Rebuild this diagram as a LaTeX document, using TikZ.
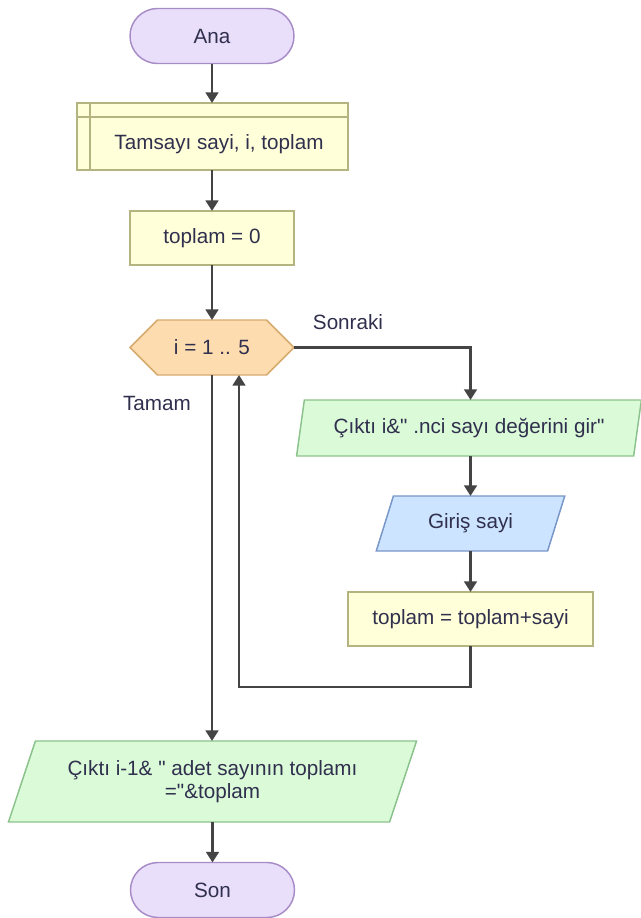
\documentclass[tikz,border=0pt]{standalone}
\usepackage{fontspec}
\setmainfont{Liberation Sans}[Ligatures=TeXOff]
\usetikzlibrary{shapes.misc,shapes.geometric,shapes.symbols,arrows.meta}

\definecolor{txt}{RGB}{48,48,78}
\definecolor{wire}{RGB}{68,68,68}
\definecolor{termfill}{RGB}{233,223,250}
\definecolor{termline}{RGB}{168,140,200}
\definecolor{procfill}{RGB}{255,255,217}
\definecolor{procline}{RGB}{180,180,128}
\definecolor{loopfill}{RGB}{253,220,176}
\definecolor{loopline}{RGB}{215,170,110}
\definecolor{outfill}{RGB}{218,250,216}
\definecolor{outline}{RGB}{140,195,140}
\definecolor{infill}{RGB}{204,228,255}
\definecolor{inline}{RGB}{120,150,200}

\tikzset{
  base/.style={inner sep=0pt, outer sep=0pt, line width=1.1pt, text=txt,
    font=\fontsize{15.5pt}{17.5pt}\selectfont, align=center},
  term/.style={base, shape=rounded rectangle, draw=termline, fill=termfill,
    minimum width=123pt, minimum height=41.25pt},
  proc/.style={base, shape=rectangle, draw=procline, fill=procfill},
  loopbox/.style={base, shape=signal, signal to=west and east,
    signal pointer angle=90, draw=loopline, fill=loopfill,
    minimum width=123pt, minimum height=41.25pt},
  para/.style={base, shape=trapezium, trapezium stretches=true},
  outbox/.style={para, draw=outline, fill=outfill},
  inbox/.style={para, draw=inline, fill=infill},
  flow/.style={draw=wire, line width=2.2pt,
    -{Triangle[length=8pt,width=9.5pt]}},
  lbl/.style={text=txt, font=\fontsize{15.5pt}{17.5pt}\selectfont}
}

\begin{document}
\begin{tikzpicture}[x=0.75pt, y=-0.75pt]
  \fill[white] (0,0) rectangle (641,918);
  \useasboundingbox (0,0) rectangle (641,918);

  % declarations and start
  \node[term] (ana) at (212,36) {Ana};
  \node[proc, minimum width=203.25pt, minimum height=50.25pt] (decl) at (212.5,136.5) {};
  \draw[procline, line width=1.1pt]
    (decl.north west) ++(0,-10.5pt) -- ([yshift=-10.5pt]decl.north east);
  \draw[procline, line width=1.1pt]
    ([xshift=9.75pt]decl.north west) -- ([xshift=9.75pt]decl.south west);
  \node[lbl] (decltext) at (219,144.5) {Tamsayı sayi, i, toplam};
  \node[proc, minimum width=123pt, minimum height=40.5pt] (init) at (212,238) {toplam = 0};

  % loop header
  \node[loopbox] (loop) at (212,347.5) {i = 1 .. 5};
  \node[lbl] (next) at (348,322) {Sonraki};
  \node[lbl] (done) at (157,403) {Tamam};

  % loop body
  \node[outbox, trapezium left angle=72, trapezium right angle=108,
    minimum width=258.75pt, minimum height=42pt] (ask) at (469,428)
    {Çıktı i\&" .nci sayı değerini gir"};
  \node[inbox, trapezium left angle=64, trapezium right angle=116,
    minimum width=141.75pt, minimum height=41.25pt] (read) at (470.5,523.5)
    {Giriş sayi};
  \node[proc, minimum width=183.75pt, minimum height=40.5pt] (add) at (470.5,619)
    {toplam = toplam+sayi};
  \coordinate (back) at (239,687);

  % result and end
  \node[outbox, trapezium left angle=62.6, trapezium right angle=117.4,
    minimum width=306.75pt, minimum height=60.75pt] (result) at (212.5,781.5)
    {Çıktı i-1\& " adet sayının toplamı\\="\&toplam};
  \node[term] (son) at (212.5,890) {Son};

  % connectors
  \draw[flow] (ana.south) -- (decl.north -| ana.south);
  \draw[flow] (decl.south -| ana.south) -- (init.north);
  \draw[flow] (init.south) -- (loop.north);
  \draw[flow] (loop.east) -| (ask.north -| read.north);
  \draw[flow] (ask.south -| read.north) -- (read.north);
  \draw[flow] (read.south) -- (add.north);
  \draw[flow] (add.south) |- (back) -- (back |- loop.south);
  \draw[flow] (loop.south) -- (loop.south |- result.north);
  \draw[flow] (result.south -| son.north) -- (son.north);
\end{tikzpicture}
\end{document}
